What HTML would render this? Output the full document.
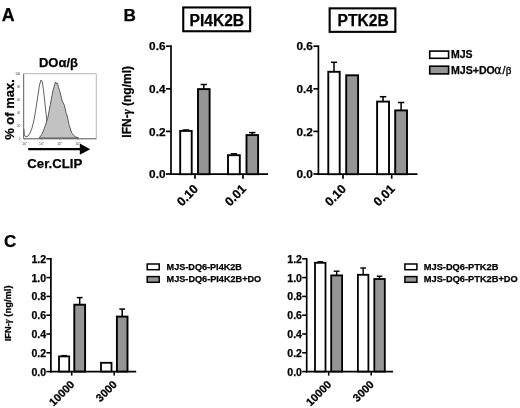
<!DOCTYPE html>
<html><head><meta charset="utf-8"><title>Figure</title>
<style>html,body{margin:0;padding:0;background:#fff;}svg{display:block;}text{font-family:"Liberation Sans", Arial, sans-serif;font-weight:bold;fill:#000;stroke:#000;stroke-width:0.25px;}</style>
</head><body>
<svg width="520" height="408" viewBox="0 0 520 408">
<rect width="520" height="408" fill="#fff"/>
<text x="1.8" y="20.8" font-size="17.8" text-anchor="start">A</text>
<text x="123.6" y="20.8" font-size="17.2" text-anchor="start">B</text>
<text x="4.0" y="246.9" font-size="17" text-anchor="start">C</text>
<text x="58.5" y="67.2" font-size="13" text-anchor="middle">DOα/β</text>
<rect x="23.7" y="73.8" width="72.5" height="65" fill="#fff" stroke="#999" stroke-width="0.7"/>
<path d="M23.9 129 L24.3 135 L26 137 L28 136 L30 133 L32 128 L34 120 L36 108 L38 95 L39.5 85 L41 80 L42.3 82 L43.5 90 L45 104 L46.5 118 L48 128 L50 134 L52 137 L55 138" fill="none" stroke="#3a3a3a" stroke-width="0.8"/>
<path d="M39.2 138 L41.7 134.6 L44.3 128.6 L47.7 118.3 L50.3 104.6 L52.9 90.9 L54.6 84.9 L55.6 81.9 L56.6 83.7 L57.5 83.3 L58.5 87.4 L59.7 90.9 L62.3 101.2 L64.5 105.4 L65.9 112.3 L66.9 114.9 L69.2 125.2 L71.7 132.9 L75.2 136.8 L78.6 138 Z" fill="#c2c2c2" stroke="#3a3a3a" stroke-width="0.8" stroke-linejoin="round"/>
<line x1="23.7" y1="73.8" x2="23.7" y2="138.8" stroke="#555" stroke-width="0.8"/>
<line x1="23.7" y1="138.8" x2="96.2" y2="138.8" stroke="#555" stroke-width="0.8"/>
<text x="20.3" y="74.8" font-size="3" text-anchor="end" style="font-weight:normal;fill:#444;stroke:none">100</text>
<text x="20.3" y="87.8" font-size="3" text-anchor="end" style="font-weight:normal;fill:#444;stroke:none">80</text>
<text x="20.3" y="100.8" font-size="3" text-anchor="end" style="font-weight:normal;fill:#444;stroke:none">60</text>
<text x="20.3" y="113.8" font-size="3" text-anchor="end" style="font-weight:normal;fill:#444;stroke:none">40</text>
<text x="20.3" y="126.8" font-size="3" text-anchor="end" style="font-weight:normal;fill:#444;stroke:none">20</text>
<text x="20.3" y="139.8" font-size="3" text-anchor="end" style="font-weight:normal;fill:#444;stroke:none">0</text>
<line x1="24.8" y1="139" x2="24.8" y2="140.3" stroke="#777" stroke-width="0.5"/>
<text x="24.8" y="144.6" font-size="3.4" text-anchor="middle" style="font-weight:normal;fill:#444;stroke:none">10<tspan dy="-1.3" font-size="2.4">0</tspan></text>
<line x1="41.6" y1="139" x2="41.6" y2="140.3" stroke="#777" stroke-width="0.5"/>
<text x="41.6" y="144.6" font-size="3.4" text-anchor="middle" style="font-weight:normal;fill:#444;stroke:none">10<tspan dy="-1.3" font-size="2.4">1</tspan></text>
<line x1="59.8" y1="139" x2="59.8" y2="140.3" stroke="#777" stroke-width="0.5"/>
<text x="59.8" y="144.6" font-size="3.4" text-anchor="middle" style="font-weight:normal;fill:#444;stroke:none">10<tspan dy="-1.3" font-size="2.4">2</tspan></text>
<line x1="78" y1="139" x2="78" y2="140.3" stroke="#777" stroke-width="0.5"/>
<text x="78" y="144.6" font-size="3.4" text-anchor="middle" style="font-weight:normal;fill:#444;stroke:none">10<tspan dy="-1.3" font-size="2.4">3</tspan></text>
<text x="13.8" y="109.5" font-size="13" text-anchor="middle" transform="rotate(-90 13.8 109.5)">% of max.</text>
<line x1="28.2" y1="149.2" x2="81" y2="149.2" stroke="#000" stroke-width="2.2"/>
<polygon points="79.8,143.6 90.2,149.2 79.8,154.8" fill="#000"/>
<text x="27.3" y="167.9" font-size="13.2" text-anchor="start">Cer.CLIP</text>
<line x1="171.0" y1="45.3" x2="171.0" y2="175.04999999999998" stroke="#000" stroke-width="1.7"/>
<line x1="170.15" y1="174.2" x2="268" y2="174.2" stroke="#000" stroke-width="1.7"/>
<line x1="166.0" y1="46.2" x2="171.0" y2="46.2" stroke="#000" stroke-width="1.7"/>
<text x="165.5" y="50.400000000000006" font-size="11.8" text-anchor="end">0.6</text>
<line x1="166.0" y1="88.80000000000001" x2="171.0" y2="88.80000000000001" stroke="#000" stroke-width="1.7"/>
<text x="165.5" y="93.00000000000001" font-size="11.8" text-anchor="end">0.4</text>
<line x1="166.0" y1="131.4" x2="171.0" y2="131.4" stroke="#000" stroke-width="1.7"/>
<text x="165.5" y="135.6" font-size="11.8" text-anchor="end">0.2</text>
<line x1="166.0" y1="174.0" x2="171.0" y2="174.0" stroke="#000" stroke-width="1.7"/>
<text x="165.5" y="178.2" font-size="11.8" text-anchor="end">0.0</text>
<line x1="195" y1="174.2" x2="195" y2="178.7" stroke="#000" stroke-width="1.7"/>
<text x="199" y="189.7" font-size="12.4" text-anchor="end" transform="rotate(-45 199 189.7)">0.10</text>
<line x1="243" y1="174.2" x2="243" y2="178.7" stroke="#000" stroke-width="1.7"/>
<text x="247" y="189.7" font-size="12.4" text-anchor="end" transform="rotate(-45 247 189.7)">0.01</text>
<line x1="185.95" y1="130.0" x2="185.95" y2="130.89999999999998" stroke="#000" stroke-width="1.5"/>
<line x1="182.84499999999997" y1="130.0" x2="189.055" y2="130.0" stroke="#000" stroke-width="1.5"/>
<rect x="180.2" y="130.89999999999998" width="11.500000000000028" height="43.30000000000001" fill="#fff" stroke="#000" stroke-width="1.9"/>
<line x1="203.8" y1="84.5" x2="203.8" y2="89.10000000000001" stroke="#000" stroke-width="1.5"/>
<line x1="200.668" y1="84.5" x2="206.93200000000002" y2="84.5" stroke="#000" stroke-width="1.5"/>
<rect x="198.0" y="89.10000000000001" width="11.600000000000023" height="85.09999999999998" fill="#959595" stroke="#000" stroke-width="1.9"/>
<line x1="233.9" y1="153.8" x2="233.9" y2="155.2" stroke="#000" stroke-width="1.5"/>
<line x1="230.714" y1="153.8" x2="237.086" y2="153.8" stroke="#000" stroke-width="1.5"/>
<rect x="228.0" y="155.2" width="11.800000000000011" height="19.0" fill="#fff" stroke="#000" stroke-width="1.9"/>
<line x1="252.3" y1="132.6" x2="252.3" y2="135.1" stroke="#000" stroke-width="1.5"/>
<line x1="249.168" y1="132.6" x2="255.43200000000002" y2="132.6" stroke="#000" stroke-width="1.5"/>
<rect x="246.5" y="135.1" width="11.600000000000023" height="39.099999999999994" fill="#959595" stroke="#000" stroke-width="1.9"/>
<text x="130.8" y="101.8" font-size="12" text-anchor="middle" transform="rotate(-90 130.8 101.8)">IFN-<tspan font-family="'Liberation Serif', serif" font-style="italic">γ</tspan> (ng/ml)</text>
<rect x="183.25" y="7.45" width="66.9" height="23.8" fill="#fff" stroke="#000" stroke-width="2.1"/>
<text x="216.8" y="25.7" font-size="15.6" text-anchor="middle">PI4K2B</text>
<line x1="318.4" y1="45.3" x2="318.4" y2="175.04999999999998" stroke="#000" stroke-width="1.7"/>
<line x1="317.54999999999995" y1="174.2" x2="417.5" y2="174.2" stroke="#000" stroke-width="1.7"/>
<line x1="313.4" y1="46.2" x2="318.4" y2="46.2" stroke="#000" stroke-width="1.7"/>
<text x="312.9" y="50.400000000000006" font-size="11.8" text-anchor="end">0.6</text>
<line x1="313.4" y1="88.80000000000001" x2="318.4" y2="88.80000000000001" stroke="#000" stroke-width="1.7"/>
<text x="312.9" y="93.00000000000001" font-size="11.8" text-anchor="end">0.4</text>
<line x1="313.4" y1="131.4" x2="318.4" y2="131.4" stroke="#000" stroke-width="1.7"/>
<text x="312.9" y="135.6" font-size="11.8" text-anchor="end">0.2</text>
<line x1="313.4" y1="174.0" x2="318.4" y2="174.0" stroke="#000" stroke-width="1.7"/>
<text x="312.9" y="178.2" font-size="11.8" text-anchor="end">0.0</text>
<line x1="343" y1="174.2" x2="343" y2="178.7" stroke="#000" stroke-width="1.7"/>
<text x="347" y="189.7" font-size="12.4" text-anchor="end" transform="rotate(-45 347 189.7)">0.10</text>
<line x1="391.7" y1="174.2" x2="391.7" y2="178.7" stroke="#000" stroke-width="1.7"/>
<text x="395.7" y="189.7" font-size="12.4" text-anchor="end" transform="rotate(-45 395.7 189.7)">0.01</text>
<line x1="334.0" y1="62.3" x2="334.0" y2="71.8" stroke="#000" stroke-width="1.5"/>
<line x1="330.922" y1="62.3" x2="337.078" y2="62.3" stroke="#000" stroke-width="1.5"/>
<rect x="328.3" y="71.8" width="11.399999999999977" height="102.39999999999999" fill="#fff" stroke="#000" stroke-width="1.9"/>
<rect x="346.2" y="75.3" width="11.900000000000034" height="98.89999999999999" fill="#959595" stroke="#000" stroke-width="1.9"/>
<line x1="383.04999999999995" y1="96.7" x2="383.04999999999995" y2="101.60000000000001" stroke="#000" stroke-width="1.5"/>
<line x1="379.83699999999993" y1="96.7" x2="386.263" y2="96.7" stroke="#000" stroke-width="1.5"/>
<rect x="377.09999999999997" y="101.60000000000001" width="11.900000000000034" height="72.59999999999998" fill="#fff" stroke="#000" stroke-width="1.9"/>
<line x1="401.1" y1="102.5" x2="401.1" y2="110.4" stroke="#000" stroke-width="1.5"/>
<line x1="397.91400000000004" y1="102.5" x2="404.286" y2="102.5" stroke="#000" stroke-width="1.5"/>
<rect x="395.2" y="110.4" width="11.800000000000011" height="63.79999999999998" fill="#959595" stroke="#000" stroke-width="1.9"/>
<rect x="329.65" y="8.35" width="65.7" height="23.5" fill="#fff" stroke="#000" stroke-width="2.1"/>
<text x="363.1" y="26.2" font-size="15.6" text-anchor="middle">PTK2B</text>
<rect x="429.7" y="51.1" width="18.9" height="7.2" fill="#fff" stroke="#000" stroke-width="1.6"/>
<rect x="429.7" y="66.2" width="18.9" height="7.7" fill="#959595" stroke="#000" stroke-width="1.6"/>
<text x="451.0" y="58.4" font-size="10.5" text-anchor="start">MJS</text>
<text x="451.0" y="74.2" font-size="10.6">MJS+DO<tspan x="494.2" font-weight="normal" font-family="'DejaVu Sans', sans-serif" font-size="11.4" style="stroke-width:0.3px">α</tspan><tspan x="502.5" font-weight="normal" style="stroke-width:0.35px">/</tspan><tspan x="505.8" font-weight="normal" font-family="'Liberation Serif', serif" font-size="11.2" style="stroke-width:0.3px">β</tspan></text>
<line x1="50.9" y1="257.95" x2="50.9" y2="372.45000000000005" stroke="#000" stroke-width="1.7"/>
<line x1="50.05" y1="371.6" x2="136.2" y2="371.6" stroke="#000" stroke-width="1.7"/>
<line x1="46.4" y1="258.8" x2="50.9" y2="258.8" stroke="#000" stroke-width="1.6"/>
<text x="46.199999999999996" y="262.8" font-size="10.6" text-anchor="end">1.2</text>
<line x1="46.4" y1="277.6" x2="50.9" y2="277.6" stroke="#000" stroke-width="1.6"/>
<text x="46.199999999999996" y="281.6" font-size="10.6" text-anchor="end">1.0</text>
<line x1="46.4" y1="296.40000000000003" x2="50.9" y2="296.40000000000003" stroke="#000" stroke-width="1.6"/>
<text x="46.199999999999996" y="300.40000000000003" font-size="10.6" text-anchor="end">0.8</text>
<line x1="46.4" y1="315.20000000000005" x2="50.9" y2="315.20000000000005" stroke="#000" stroke-width="1.6"/>
<text x="46.199999999999996" y="319.20000000000005" font-size="10.6" text-anchor="end">0.6</text>
<line x1="46.4" y1="334.0" x2="50.9" y2="334.0" stroke="#000" stroke-width="1.6"/>
<text x="46.199999999999996" y="338.0" font-size="10.6" text-anchor="end">0.4</text>
<line x1="46.4" y1="352.8" x2="50.9" y2="352.8" stroke="#000" stroke-width="1.6"/>
<text x="46.199999999999996" y="356.8" font-size="10.6" text-anchor="end">0.2</text>
<line x1="46.4" y1="371.6" x2="50.9" y2="371.6" stroke="#000" stroke-width="1.6"/>
<text x="46.199999999999996" y="375.6" font-size="10.6" text-anchor="end">0.0</text>
<line x1="71.7" y1="371.6" x2="71.7" y2="375.6" stroke="#000" stroke-width="1.6"/>
<text x="75.2" y="385.1" font-size="11" text-anchor="end" transform="rotate(-45 75.2 385.1)">10000</text>
<line x1="114.2" y1="371.6" x2="114.2" y2="375.6" stroke="#000" stroke-width="1.6"/>
<text x="117.7" y="385.1" font-size="11" text-anchor="end" transform="rotate(-45 117.7 385.1)">3000</text>
<line x1="64.1" y1="355.6" x2="64.1" y2="356.4" stroke="#000" stroke-width="1.4"/>
<line x1="61.346" y1="355.6" x2="66.854" y2="355.6" stroke="#000" stroke-width="1.4"/>
<rect x="59.0" y="356.4" width="10.200000000000003" height="15.100000000000023" fill="#fff" stroke="#000" stroke-width="1.7999999999999998"/>
<line x1="79.69999999999999" y1="297.6" x2="79.69999999999999" y2="304.7" stroke="#000" stroke-width="1.5"/>
<line x1="76.78399999999999" y1="297.6" x2="82.61599999999999" y2="297.6" stroke="#000" stroke-width="1.5"/>
<rect x="74.3" y="304.7" width="10.799999999999997" height="66.80000000000001" fill="#959595" stroke="#000" stroke-width="1.9"/>
<rect x="101.0" y="362.8" width="10.5" height="8.699999999999989" fill="#fff" stroke="#000" stroke-width="1.7999999999999998"/>
<line x1="122.2" y1="309.1" x2="122.2" y2="316.59999999999997" stroke="#000" stroke-width="1.5"/>
<line x1="119.33800000000001" y1="309.1" x2="125.062" y2="309.1" stroke="#000" stroke-width="1.5"/>
<rect x="116.9" y="316.59999999999997" width="10.599999999999994" height="54.900000000000034" fill="#959595" stroke="#000" stroke-width="1.9"/>
<text x="11.3" y="313.4" font-size="9.35" text-anchor="middle" transform="rotate(-90 11.3 313.4)">IFN-<tspan font-family="'Liberation Serif', serif" font-style="italic">γ</tspan> (ng/ml)</text>
<rect x="147.2" y="264.0" width="12.0" height="5.7" fill="#fff" stroke="#000" stroke-width="1.5"/>
<rect x="147.2" y="276.6" width="12.0" height="5.7" fill="#959595" stroke="#000" stroke-width="1.5"/>
<text x="166.6" y="269.7" font-size="9.1" text-anchor="start">MJS-DQ6-PI4K2B</text>
<text x="166.6" y="282.2" font-size="9.15" text-anchor="start">MJS-DQ6-PI4K2B+DO</text>
<line x1="306.7" y1="257.95" x2="306.7" y2="372.45000000000005" stroke="#000" stroke-width="1.7"/>
<line x1="305.84999999999997" y1="371.6" x2="393" y2="371.6" stroke="#000" stroke-width="1.7"/>
<line x1="302.2" y1="258.8" x2="306.7" y2="258.8" stroke="#000" stroke-width="1.6"/>
<text x="302.0" y="262.8" font-size="10.6" text-anchor="end">1.2</text>
<line x1="302.2" y1="277.6" x2="306.7" y2="277.6" stroke="#000" stroke-width="1.6"/>
<text x="302.0" y="281.6" font-size="10.6" text-anchor="end">1.0</text>
<line x1="302.2" y1="296.40000000000003" x2="306.7" y2="296.40000000000003" stroke="#000" stroke-width="1.6"/>
<text x="302.0" y="300.40000000000003" font-size="10.6" text-anchor="end">0.8</text>
<line x1="302.2" y1="315.20000000000005" x2="306.7" y2="315.20000000000005" stroke="#000" stroke-width="1.6"/>
<text x="302.0" y="319.20000000000005" font-size="10.6" text-anchor="end">0.6</text>
<line x1="302.2" y1="334.0" x2="306.7" y2="334.0" stroke="#000" stroke-width="1.6"/>
<text x="302.0" y="338.0" font-size="10.6" text-anchor="end">0.4</text>
<line x1="302.2" y1="352.8" x2="306.7" y2="352.8" stroke="#000" stroke-width="1.6"/>
<text x="302.0" y="356.8" font-size="10.6" text-anchor="end">0.2</text>
<line x1="302.2" y1="371.6" x2="306.7" y2="371.6" stroke="#000" stroke-width="1.6"/>
<text x="302.0" y="375.6" font-size="10.6" text-anchor="end">0.0</text>
<line x1="328.7" y1="371.6" x2="328.7" y2="375.6" stroke="#000" stroke-width="1.6"/>
<text x="332.2" y="385.1" font-size="11" text-anchor="end" transform="rotate(-45 332.2 385.1)">10000</text>
<line x1="371.2" y1="371.6" x2="371.2" y2="375.6" stroke="#000" stroke-width="1.6"/>
<text x="374.7" y="385.1" font-size="11" text-anchor="end" transform="rotate(-45 374.7 385.1)">3000</text>
<line x1="320.25" y1="261.8" x2="320.25" y2="262.8" stroke="#000" stroke-width="1.4"/>
<line x1="317.415" y1="261.8" x2="323.085" y2="261.8" stroke="#000" stroke-width="1.4"/>
<rect x="315.0" y="262.8" width="10.5" height="108.69999999999999" fill="#fff" stroke="#000" stroke-width="1.7999999999999998"/>
<line x1="336.65" y1="271.2" x2="336.65" y2="275.4" stroke="#000" stroke-width="1.4"/>
<line x1="333.707" y1="271.2" x2="339.59299999999996" y2="271.2" stroke="#000" stroke-width="1.4"/>
<rect x="331.2" y="275.4" width="10.900000000000034" height="96.10000000000002" fill="#959595" stroke="#000" stroke-width="1.7999999999999998"/>
<line x1="363.15" y1="268" x2="363.15" y2="274.8" stroke="#000" stroke-width="1.4"/>
<line x1="360.31499999999994" y1="268" x2="365.985" y2="268" stroke="#000" stroke-width="1.4"/>
<rect x="357.9" y="274.8" width="10.500000000000057" height="96.69999999999999" fill="#fff" stroke="#000" stroke-width="1.7999999999999998"/>
<line x1="379.55" y1="276.2" x2="379.55" y2="279.0" stroke="#000" stroke-width="1.4"/>
<line x1="376.71500000000003" y1="276.2" x2="382.385" y2="276.2" stroke="#000" stroke-width="1.4"/>
<rect x="374.3" y="279.0" width="10.5" height="92.5" fill="#959595" stroke="#000" stroke-width="1.7999999999999998"/>
<rect x="404.9" y="264.0" width="12.0" height="5.7" fill="#fff" stroke="#000" stroke-width="1.5"/>
<rect x="404.9" y="276.6" width="12.0" height="5.7" fill="#959595" stroke="#000" stroke-width="1.5"/>
<text x="423.8" y="269.7" font-size="9.25" text-anchor="start">MJS-DQ6-PTK2B</text>
<text x="423.8" y="282.2" font-size="9.28" text-anchor="start">MJS-DQ6-PTK2B+DO</text>
</svg>
</body></html>
